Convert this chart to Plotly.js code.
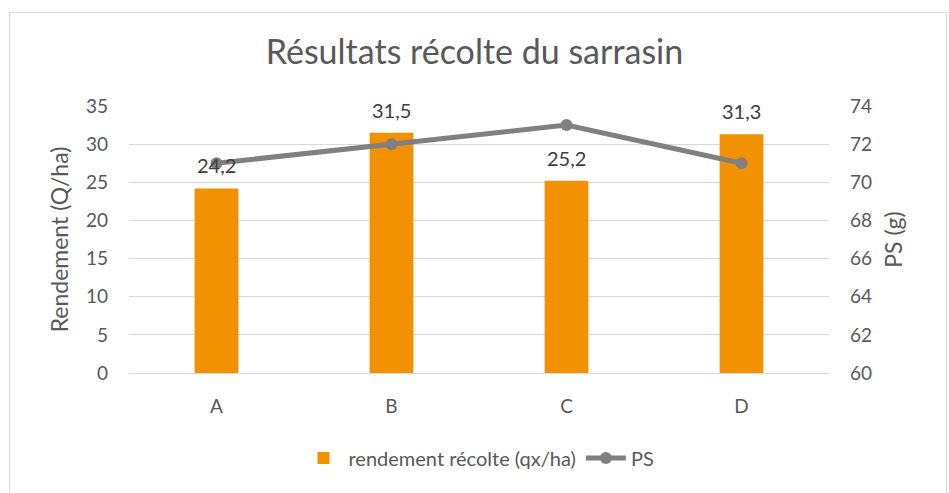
<!DOCTYPE html>
<html><head><meta charset="utf-8">
<script src="https://cdn.plot.ly/plotly-3.0.1.min.js"></script>
<style>
html,body{margin:0;padding:0;background:#fff;}
#frame{position:absolute;left:9px;top:12px;width:938px;height:490px;border:1px solid #d9d9d9;box-sizing:border-box;}
#chart{position:absolute;left:0;top:0;width:949px;height:493px;}
</style></head>
<body>
<div id="frame"></div>
<div id="chart"></div>
<script>
const categories = ['A','B','C','D'];
const rendement = [24.2, 31.5, 25.2, 31.3];
const ps = [71, 72, 73, 71];
const yTicks = [0,5,10,15,20,25,30,35];
const y2Ticks = [60,62,64,66,68,70,72,74];

const FONT = 'Lato, "Open Sans", sans-serif';
const GREY = '#595959';

const traces = [
  {type:'bar', x:categories, y:rendement, name:'rendement récolte (qx/ha)',
   marker:{color:'#F39200'}, yaxis:'y', hoverinfo:'none'},
  {type:'scatter', mode:'lines+markers', x:categories, y:ps, name:'PS', yaxis:'y2',
   line:{color:'#808080', width:5}, marker:{color:'#808080', size:12}}
];

const annotations = categories.map((c,i)=>({
  x:c, y:rendement[i], xref:'x', yref:'y', text:rendement[i].toFixed(1).replace('.',','),
  showarrow:false, yanchor:'bottom', yshift:9, font:{family:FONT, size:20, color:'#404040'}
}));

const layout = {
  width:949, height:493,
  paper_bgcolor:'rgba(0,0,0,0)', plot_bgcolor:'rgba(0,0,0,0)',
  margin:{l:129, r:120, t:106, b:120},
  bargap:0.75,
  font:{family:FONT, color:GREY},
  title:{text:'Résultats récolte du sarrasin', font:{family:FONT, size:34, color:GREY}, x:0.5, xanchor:'center', y:0.895, yanchor:'middle'},
  xaxis:{type:'category', tickfont:{size:19, color:GREY}, showline:true, linecolor:'#d9d9d9', linewidth:1,
         ticks:'', ticklabelstandoff:16, showgrid:false},
  yaxis:{range:[0,35], tickvals:yTicks, tickfont:{size:19, color:GREY}, gridcolor:'#d9d9d9', gridwidth:1,
         zeroline:false, ticks:'', ticklabelstandoff:20,
         title:{text:'Rendement (Q/ha)', font:{size:23, color:GREY}, standoff:10}},
  yaxis2:{range:[60,74], tickvals:y2Ticks, overlaying:'y', side:'right', showgrid:false, zeroline:false,
          tickfont:{size:19, color:GREY}, ticks:'', ticklabelstandoff:20,
          title:{text:'PS (g)', font:{size:23, color:GREY}, standoff:14}},
  legend:{orientation:'h', x:0.5, xanchor:'center', y:-0.318, yanchor:'middle', font:{size:20, color:GREY}, itemwidth:40},
  annotations:annotations,
  showlegend:true
};
Plotly.newPlot('chart', traces, layout, {displayModeBar:false, staticPlot:true});
</script>
</body></html>
